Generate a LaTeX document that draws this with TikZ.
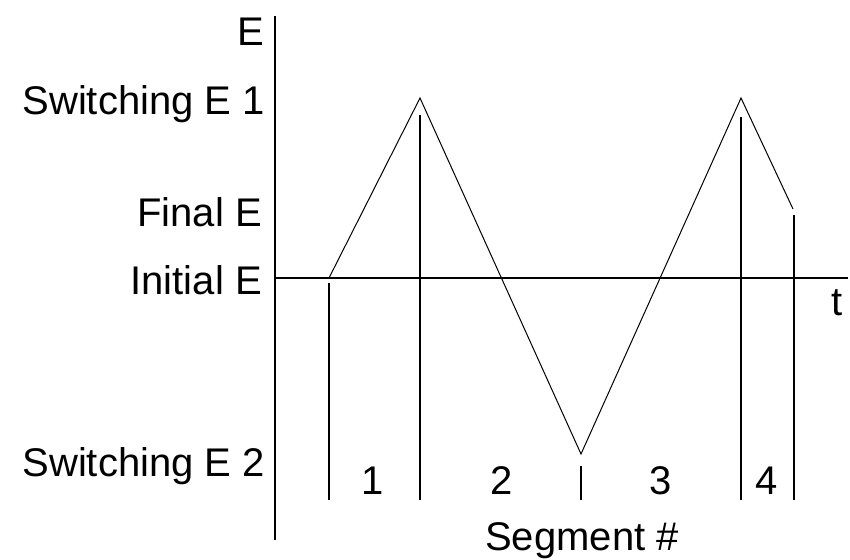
\documentclass[tikz,border=0pt]{standalone}
\usepackage{fontspec}
\setmainfont{Liberation Sans}
\begin{document}
\begin{tikzpicture}[x=1pt,y=-1pt,
  lbl/.style={font=\fontsize{40}{44}\selectfont, inner sep=0pt, anchor=base east},
  seglbl/.style={font=\fontsize{40}{44}\selectfont, inner sep=0pt, anchor=base},
  axisline/.style={line width=1.7pt},
  sepline/.style={line width=1.7pt},
  wave/.style={line width=1pt, line join=miter}]
\useasboundingbox (0,0) rectangle (850,559);
% axes
\coordinate (ytop) at (275,16);
\coordinate (ybot) at (275,540);
\coordinate (xl) at (275,278);
\coordinate (xr) at (848,278);
\draw[axisline] (ytop) -- (ybot);
\draw[axisline] (xl) -- (xr);
% wave points
\coordinate (w0) at (329,278);
\coordinate (w1) at (420,98);
\coordinate (w2) at (581,454);
\coordinate (w3) at (741,98);
\coordinate (w4) at (793,209);
\draw[wave] (w0) -- (w1) -- (w2) -- (w3) -- (w4);
% separators
\coordinate (s0t) at (329,283); \coordinate (s0b) at (329,500);
\coordinate (s1t) at (420,115); \coordinate (s1b) at (420,500);
\coordinate (s2t) at (581,466); \coordinate (s2b) at (581,500);
\coordinate (s3t) at (741,117); \coordinate (s3b) at (741,500);
\coordinate (s4t) at (794,215); \coordinate (s4b) at (794,500);
\draw[sepline] (s0t) -- (s0b);
\draw[sepline] (s1t) -- (s1b);
\draw[sepline] (s2t) -- (s2b);
\draw[sepline] (s3t) -- (s3b);
\draw[sepline] (s4t) -- (s4b);
% labels
\node[lbl] (lE) at (264,46) {E};
\node[lbl] (lsw1) at (265,114) {Switching E 1};
\node[lbl] (lfin) at (262,226) {Final E};
\node[lbl] (lini) at (262,294) {Initial E};
\node[lbl] (lsw2) at (265,476) {Switching E 2};
\node[seglbl] (lt) at (837,315) {t};
\node[seglbl] (n1) at (373,494) {1};
\node[seglbl] (n2) at (502,494) {2};
\node[seglbl] (n3) at (661,494) {3};
\node[seglbl] (n4) at (767,494) {4};
\node[seglbl] (lseg) at (582,550) {Segment \#};
\end{tikzpicture}
\end{document}
